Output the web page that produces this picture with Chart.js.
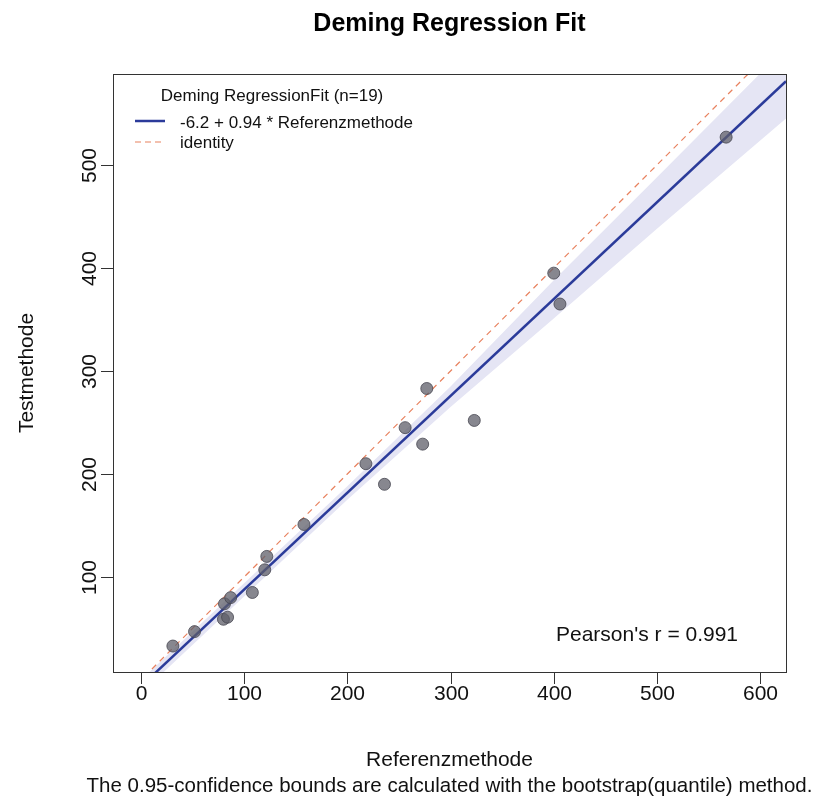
<!DOCTYPE html>
<html>
<head>
<meta charset="utf-8">
<script src="https://cdn.jsdelivr.net/npm/chart.js@4.4.0/dist/chart.umd.min.js"></script>
<style>
    html, body { margin: 0; padding: 0; background: #fff; }
    #wrap { width: 816px; height: 798px; }
</style>
</head>
<body>
<div id="wrap"><canvas id="myChart" width="816" height="798"></canvas></div>
<script>
const referenz = [31, 52, 80, 84, 81, 87, 108, 120, 122, 158, 218, 236, 256, 273, 277, 323, 400, 406, 567];
const testmethode = [33, 47, 59, 61, 74, 80, 85, 107, 120, 151, 210, 190, 245, 229, 283, 252, 395, 365, 527];

// fitted line (-6.2 + 0.94 * x) and identity, end points
const fitX = [-27, 625];
const fitY = [-31.6, 581.3];
const identityX = [-27, 625];
const identityY = [-27, 625];

// bootstrap confidence band
const bandX = [-27, 0, 100, 200, 300, 400, 500, 625];
const bandLow = [-39, -13, 81, 175, 265, 351, 438, 545];
const bandHigh = [-24, 0, 94, 188, 285, 388, 488, 614];

const xTicks = [0, 100, 200, 300, 400, 500, 600];
const yTicks = [100, 200, 300, 400, 500];

const FONT = '"Liberation Sans", Arial, sans-serif';

function pts(xs, ys) {
    return xs.map((x, i) => ({ x: x, y: ys[i] }));
}

const rStyle = {
    id: 'rStyle',
    afterDraw(chart) {
        const c = chart.ctx;
        const a = chart.chartArea;
        const xs = chart.scales.x;
        const ys = chart.scales.y;
        c.save();
        c.strokeStyle = '#333';
        c.lineWidth = 1;
        c.strokeRect(Math.round(a.left) + 0.5, Math.round(a.top) + 0.5, Math.round(a.right - a.left), Math.round(a.bottom - a.top));

        c.fillStyle = '#111';
        c.font = '21px ' + FONT;
        c.textAlign = 'center';
        c.textBaseline = 'middle';
        xTicks.forEach(v => {
            const px = Math.round(xs.getPixelForValue(v)) + 0.5;
            c.beginPath();
            c.moveTo(px, a.bottom);
            c.lineTo(px, a.bottom + 12);
            c.stroke();
            c.fillText(String(v), px, a.bottom + 22);
        });
        yTicks.forEach(v => {
            const py = Math.round(ys.getPixelForValue(v)) + 0.5;
            c.beginPath();
            c.moveTo(a.left, py);
            c.lineTo(a.left - 12, py);
            c.stroke();
            c.save();
            c.translate(a.left - 23, py);
            c.rotate(-Math.PI / 2);
            c.fillText(String(v), 0, 0);
            c.restore();
        });

        // axis titles
        const cx = (a.left + a.right) / 2;
        c.fillText('Referenzmethode', cx, 760);
        c.save();
        c.translate(27, (a.top + a.bottom) / 2);
        c.rotate(-Math.PI / 2);
        c.fillText('Testmethode', 0, 0);
        c.restore();
        c.font = '20.5px ' + FONT;
        c.fillText('The 0.95-confidence bounds are calculated with the bootstrap(quantile) method.', cx, 786);

        // main title
        c.font = 'bold 25px ' + FONT;
        c.fillStyle = '#000';
        c.fillText('Deming Regression Fit', cx, 24);

        // legend
        c.font = '17px ' + FONT;
        c.fillStyle = '#111';
        c.fillText('Deming RegressionFit (n=19)', 272, 96);
        c.textAlign = 'left';
        c.fillText('-6.2 + 0.94 * Referenzmethode', 180, 123);
        c.fillText('identity', 180, 143);
        c.strokeStyle = '#2B3B9A';
        c.lineWidth = 2.5;
        c.beginPath();
        c.moveTo(135, 121);
        c.lineTo(165, 121);
        c.stroke();
        c.strokeStyle = '#E8825F';
        c.lineWidth = 1.2;
        c.setLineDash([6, 4]);
        c.beginPath();
        c.moveTo(135, 142);
        c.lineTo(165, 142);
        c.stroke();
        c.setLineDash([]);

        // correlation note
        c.font = '21px ' + FONT;
        c.fillText("Pearson's r = 0.991", 556, 635);
        c.restore();
    }
};

const ctx = document.getElementById('myChart');
new Chart(ctx, {
    type: 'scatter',
    data: {
        datasets: [
            {
                label: 'points',
                data: pts(referenz, testmethode),
                backgroundColor: 'rgba(95, 95, 105, 0.75)',
                borderColor: 'rgba(70, 70, 80, 0.8)',
                borderWidth: 1,
                pointRadius: 6,
                order: 0
            },
            {
                label: 'fit',
                type: 'line',
                data: pts(fitX, fitY),
                borderColor: '#2B3B9A',
                borderWidth: 2.5,
                pointRadius: 0,
                fill: false,
                order: 1
            },
            {
                label: 'identity',
                type: 'line',
                data: pts(identityX, identityY),
                borderColor: '#E8825F',
                borderWidth: 1.2,
                borderDash: [6, 5],
                pointRadius: 0,
                fill: false,
                order: 2
            },
            {
                label: 'upper',
                type: 'line',
                data: pts(bandX, bandHigh),
                borderWidth: 0,
                borderColor: 'rgba(0,0,0,0)',
                backgroundColor: '#E5E5F4',
                pointRadius: 0,
                fill: '+1',
                order: 3
            },
            {
                label: 'lower',
                type: 'line',
                data: pts(bandX, bandLow),
                borderWidth: 0,
                borderColor: 'rgba(0,0,0,0)',
                pointRadius: 0,
                fill: false,
                order: 4
            }
        ]
    },
    options: {
        responsive: false,
        animation: false,
        devicePixelRatio: 1,
        layout: {
            padding: { left: 113, top: 74, right: 30, bottom: 126 }
        },
        plugins: {
            legend: { display: false },
            tooltip: { enabled: false }
        },
        scales: {
            x: { type: 'linear', min: -27, max: 625, display: false },
            y: { type: 'linear', min: 7.8, max: 588.3, display: false }
        }
    },
    plugins: [rStyle]
});
</script>
</body>
</html>
